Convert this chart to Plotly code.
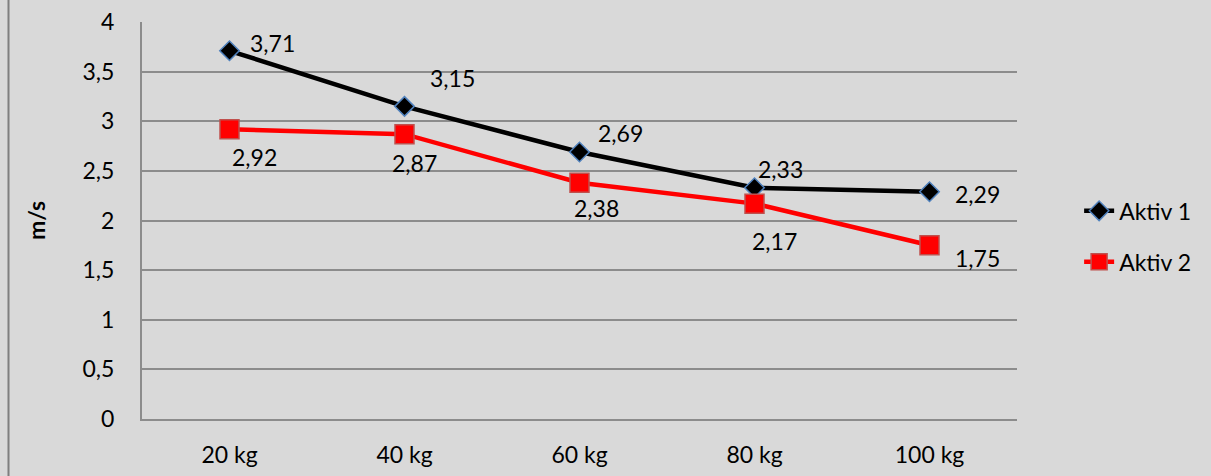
import plotly.graph_objects as go

categories = ["20 kg", "40 kg", "60 kg", "80 kg", "100 kg"]
aktiv1 = [3.71, 3.15, 2.69, 2.33, 2.29]
aktiv2 = [2.92, 2.87, 2.38, 2.17, 1.75]
y_ticks = [0, 0.5, 1, 1.5, 2, 2.5, 3, 3.5, 4]

BG = "#d9d9d9"
GRID = "#8c8c8c"
FONT = "Lato"
FS = 23

fig = go.Figure()
fig.add_trace(go.Scatter(
    x=categories, y=aktiv1, name="Aktiv 1", mode="lines+markers",
    legendgroup="a1",
    line=dict(color="black", width=4.5),
    marker=dict(symbol="diamond", size=15, color="black",
                line=dict(color="#4f81bd", width=1.5)),
))
fig.add_trace(go.Scatter(
    x=categories, y=aktiv2, name="Aktiv 2", mode="lines+markers",
    legendgroup="a2",
    line=dict(color="#ff0000", width=4.5),
    marker=dict(symbol="square", size=19, color="#ff0000",
                line=dict(color="#c0504d", width=1.5)),
))

def fmt(v):
    return f"{v:.2f}".replace(".", ",")

# value label offsets in pixels (dx, dy) relative to each marker
off1 = [(43, -8), (48, -28), (41, -19), (26, -19), (48, 2)]
off2 = [(25, 28), (10, 29), (17, 25), (20, 37), (48, 13)]
for series, offs in ((aktiv1, off1), (aktiv2, off2)):
    for cat, v, (dx, dy) in zip(categories, series, offs):
        fig.add_annotation(x=cat, y=v, text=fmt(v), showarrow=False,
                           xshift=dx, yshift=-dy,
                           font=dict(family=FONT, size=FS, color="black"))

# thin frame line on the left edge of the chart area
fig.add_shape(type="line", xref="paper", yref="paper",
              x0=(8.5 - 142) / 875, x1=(8.5 - 142) / 875, y0=-0.2, y1=1.1,
              line=dict(color="#7f7f7f", width=2))

fig.update_layout(
    width=1211, height=476,
    margin=dict(l=142, r=194, t=22, b=57, autoexpand=False),
    paper_bgcolor=BG, plot_bgcolor=BG,
    separators=", ",
    font=dict(family=FONT, size=FS, color="black"),
    showlegend=True,
    legend=dict(x=1.071, y=0.46, xanchor="left", yanchor="middle",
                bgcolor="rgba(0,0,0,0)", traceorder="grouped",
                tracegroupgap=18,
                font=dict(family=FONT, size=FS)),
    xaxis=dict(range=[-0.5, 4.5], showgrid=False, showline=True,
               linecolor=GRID, linewidth=2, ticks="", ticklabelstandoff=14,
               zeroline=False, automargin=False),
    yaxis=dict(range=[0, 4], tickvals=y_ticks, showgrid=True,
               gridcolor=GRID, gridwidth=2, showline=True, linecolor=GRID,
               linewidth=2, ticks="", ticklabelstandoff=21, zeroline=False,
               automargin=False,
               title=dict(text="<b>m/s</b>", standoff=30,
                          font=dict(family=FONT, size=FS))),
)

fig.write_html("out.html")
